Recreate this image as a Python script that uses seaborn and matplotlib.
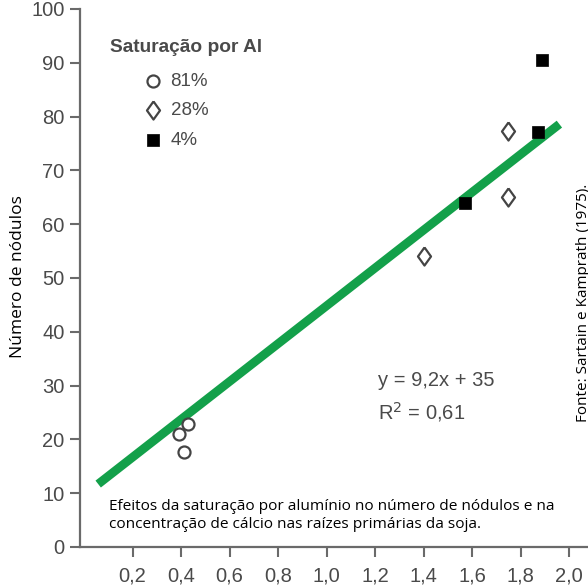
import numpy as np
import pandas as pd
import seaborn as sns
import matplotlib.pyplot as plt

#%% data
ca_81 = [0.39, 0.41, 0.43]
nod_81 = [21.0, 17.7, 22.8]
ca_28 = [1.40, 1.75, 1.75]
nod_28 = [54.1, 65.0, 77.4]
ca_4 = [1.57, 1.87, 1.89]
nod_4 = [64.0, 77.1, 90.6]
fit_x = [0.058, 1.96]
fit_y = [11.7, 78.6]

x_ticks = [0.2, 0.4, 0.6, 0.8, 1.0, 1.2, 1.4, 1.6, 1.8, 2.0]
y_ticks = [0, 10, 20, 30, 40, 50, 60, 70, 80, 90, 100]
x_labels = [f'{v:.1f}'.replace('.', ',') for v in x_ticks]

#%% style
sns.set_style('ticks')
plt.rcParams['font.family'] = ['Liberation Sans', 'DejaVu Sans']
grey_txt = '#4a4a4a'
grey_axis = '#6a6a6a'
green = '#13a04a'
diamond = [(0, 1), (0.72, 0), (0, -1), (-0.72, 0), (0, 1)]

W, H = 588, 587
fig = plt.figure(figsize=(W / 100, H / 100), dpi=100)
ax = fig.add_axes([80 / W, (H - 547) / H, 508 / W, 538 / H])

ax.plot(fit_x, fit_y, color=green, lw=6.3, solid_capstyle='butt', zorder=1)

sns.scatterplot(x=ca_81, y=nod_81, marker='o', s=75, facecolor='white',
                edgecolor='#444444', linewidth=1.6, label='81%', ax=ax, zorder=3)
sns.scatterplot(x=ca_28, y=nod_28, marker=diamond, s=170, facecolor='white',
                edgecolor='#444444', linewidth=1.6, label='28%', ax=ax, zorder=3)
sns.scatterplot(x=ca_4, y=nod_4, marker='s', s=85, color='black',
                edgecolor='black', linewidth=0.5, label='4%', ax=ax, zorder=3)

ax.set_xlim(-0.017, 2.078)
ax.set_ylim(0, 100)
ax.set_xticks(x_ticks)
ax.set_xticklabels(x_labels)
ax.set_yticks(y_ticks)
ax.tick_params(axis='both', colors=grey_axis, labelcolor=grey_txt,
               labelsize=14.5, width=1.5, length=7, pad=4)
ax.tick_params(axis='x', pad=7)
for side in ['top', 'right']:
    ax.spines[side].set_visible(False)
for side in ['left', 'bottom']:
    ax.spines[side].set_color(grey_axis)
    ax.spines[side].set_linewidth(1.6)
ax.set_xlabel('')
ax.set_ylabel('')

# legend: title drawn as its own text, entries indented under it
leg = ax.legend(loc='upper left', bbox_to_anchor=(134 / W, 1 - 63 / H),
                bbox_transform=fig.transFigure, frameon=False, fontsize=13.5,
                labelcolor=grey_txt, handlelength=1.0, handletextpad=0.45,
                labelspacing=0.68, borderpad=0)
fig.text(110 / W, 1 - 47 / H, 'Saturação por Al', fontsize=13.8,
         weight='bold', color=grey_txt, va='center')

fig.text(378 / W, 1 - 381 / H, 'y = 9,2x + 35', fontsize=14.5,
         color=grey_txt, va='center')
fig.text(378 / W, 1 - 412 / H, 'R$^{2}$ = 0,61', fontsize=14.5,
         color=grey_txt, va='center')

fig.text(109 / W, 1 - 510 / H,
         'Efeitos da saturação por alumínio no número de nódulos e na',
         family='Open Sans', fontsize=11.1, color='black', va='baseline')
fig.text(109 / W, 1 - 528 / H,
         'concentração de cálcio nas raízes primárias da soja.',
         family='Open Sans', fontsize=11.1, color='black', va='baseline')

fig.text(18 / W, 1 - 277 / H, 'Número de nódulos', family='Open Sans',
         fontsize=12.5, color='black', rotation=90, ha='center', va='center')
fig.text(587 / W, 1 - 422 / H, 'Fonte: Sartain e Kamprath (1975).',
         family='Open Sans', fontsize=11, color='black', rotation=90,
         rotation_mode='anchor', ha='left', va='baseline')

fig.savefig('out.png', dpi=100)
